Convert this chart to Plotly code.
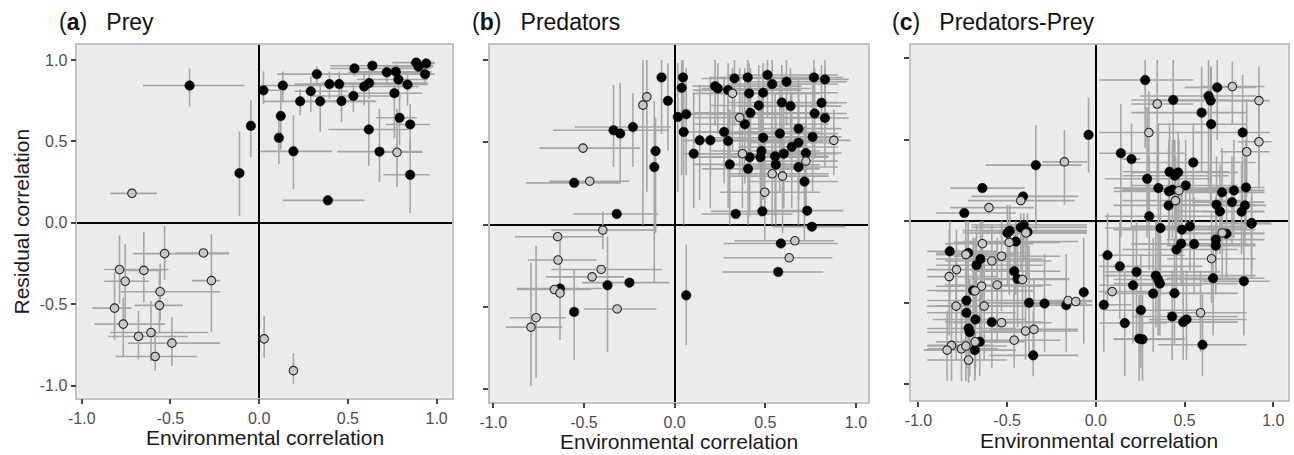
import plotly.graph_objects as go

# Each row: (env_corr, resid_corr, env_lo, env_hi, resid_lo, resid_hi, filled)
prey_points = [
    (-0.392, 0.843, -0.655, -0.083, 0.715, 0.948, 1),
    (-0.717, 0.181, -0.839, -0.577, 0.181, 0.181, 0),
    (-0.111, 0.305, -0.111, -0.111, 0.041, 0.561, 1),
    (-0.047, 0.596, -0.047, -0.047, 0.402, 0.753, 1),
    (0.024, 0.814, 0.0, 0.12, 0.73, 0.93, 1),
    (0.122, 0.656, 0.10, 0.14, 0.45, 0.81, 1),
    (0.111, 0.522, 0.111, 0.111, 0.36, 0.69, 1),
    (0.133, 0.843, 0.03, 0.40, 0.75, 0.93, 1),
    (0.193, 0.439, 0.006, 0.41, 0.206, 0.66, 1),
    (0.231, 0.746, 0.02, 0.66, 0.66, 0.82, 1),
    (0.291, 0.808, 0.20, 0.50, 0.68, 0.90, 1),
    (0.325, 0.913, 0.10, 0.95, 0.85, 0.96, 1),
    (0.344, 0.746, 0.25, 0.60, 0.56, 0.86, 1),
    (0.396, 0.852, 0.20, 0.75, 0.76, 0.93, 1),
    (0.387, 0.138, 0.133, 0.593, 0.138, 0.138, 1),
    (0.451, 0.852, 0.30, 0.80, 0.74, 0.93, 1),
    (0.464, 0.748, 0.35, 0.65, 0.62, 0.85, 1),
    (0.537, 0.948, 0.40, 0.97, 0.90, 0.98, 1),
    (0.531, 0.779, 0.30, 0.80, 0.68, 0.86, 1),
    (0.592, 0.837, 0.40, 0.90, 0.72, 0.92, 1),
    (0.620, 0.858, 0.35, 0.95, 0.76, 0.94, 1),
    (0.638, 0.965, 0.40, 0.98, 0.92, 0.98, 1),
    (0.618, 0.573, 0.39, 0.841, 0.35, 0.75, 1),
    (0.719, 0.924, 0.50, 0.97, 0.86, 0.97, 1),
    (0.770, 0.928, 0.55, 0.97, 0.86, 0.97, 1),
    (0.785, 0.880, 0.55, 0.95, 0.78, 0.95, 1),
    (0.762, 0.796, 0.55, 0.92, 0.52, 0.90, 1),
    (0.791, 0.645, 0.659, 0.888, 0.48, 0.80, 1),
    (0.678, 0.437, 0.44, 0.92, 0.25, 0.70, 1),
    (0.777, 0.433, 0.68, 0.92, 0.22, 0.70, 0),
    (0.836, 0.849, 0.70, 0.95, 0.72, 0.93, 1),
    (0.851, 0.604, 0.715, 0.962, 0.45, 0.73, 1),
    (0.851, 0.295, 0.70, 0.96, 0.06, 0.52, 1),
    (0.885, 0.984, 0.75, 0.99, 0.95, 0.99, 1),
    (0.898, 0.959, 0.70, 0.98, 0.92, 0.98, 1),
    (0.941, 0.979, 0.85, 0.99, 0.95, 0.99, 1),
    (0.935, 0.913, 0.80, 0.99, 0.85, 0.95, 1),
    (-0.787, -0.287, -0.873, -0.511, -0.497, -0.076, 0),
    (-0.755, -0.359, -0.873, -0.62, -0.62, -0.13, 0),
    (-0.815, -0.524, -0.94, -0.72, -0.72, -0.30, 0),
    (-0.766, -0.622, -0.93, -0.53, -0.82, -0.46, 0),
    (-0.650, -0.292, -0.76, -0.55, -0.49, -0.055, 0),
    (-0.680, -0.698, -0.85, -0.40, -0.84, -0.54, 0),
    (-0.610, -0.674, -0.84, -0.29, -0.85, -0.48, 0),
    (-0.586, -0.821, -0.81, -0.35, -0.91, -0.66, 0),
    (-0.558, -0.423, -0.78, -0.22, -0.60, -0.25, 0),
    (-0.562, -0.507, -0.70, -0.43, -0.68, -0.29, 0),
    (-0.533, -0.189, -0.71, -0.17, -0.35, -0.02, 0),
    (-0.492, -0.739, -0.74, -0.22, -0.88, -0.58, 0),
    (-0.314, -0.185, -0.47, -0.17, -0.185, -0.185, 0),
    (-0.269, -0.355, -0.38, -0.22, -0.67, -0.07, 0),
    (0.028, -0.713, 0.028, 0.028, -0.83, -0.57, 0),
    (0.193, -0.908, 0.193, 0.193, -0.99, -0.80, 0),
]

predator_points = [
    (-0.072, 0.894, -0.072, -0.072, 0.55, 1.0, 1),
    (-0.037, 0.752, -0.037, -0.037, 0.45, 0.98, 1),
    (-0.153, 0.776, -0.153, -0.153, 0.20, 1.0, 0),
    (-0.175, 0.726, -0.175, -0.175, 0.0, 1.0, 0),
    (-0.230, 0.593, -0.55, -0.02, 0.35, 0.80, 1),
    (-0.337, 0.573, -0.67, -0.03, 0.35, 0.85, 1),
    (-0.300, 0.553, -0.30, -0.30, 0.25, 0.86, 1),
    (-0.505, 0.465, -0.745, -0.19, 0.465, 0.465, 0),
    (-0.105, 0.447, -0.105, -0.105, -0.05, 0.65, 1),
    (-0.112, 0.350, -0.112, -0.112, -0.35, 0.75, 1),
    (-0.468, 0.264, -0.69, -0.25, 0.264, 0.264, 0),
    (-0.554, 0.254, -0.82, -0.30, 0.254, 0.254, 1),
    (-0.319, 0.065, -0.56, -0.09, 0.065, 0.065, 1),
    (0.046, 0.894, 0.02, 0.07, 0.55, 1.0, 1),
    (0.039, 0.831, 0.01, 0.06, 0.30, 1.0, 1),
    (0.018, 0.654, 0.0, 0.04, 0.20, 0.98, 1),
    (0.064, 0.671, 0.04, 0.60, 0.30, 0.95, 1),
    (0.050, 0.563, 0.03, 0.50, 0.0, 0.85, 1),
    (0.105, 0.431, 0.05, 0.70, 0.10, 0.80, 1),
    (0.138, 0.512, 0.05, 0.60, 0.15, 0.85, 1),
    (0.197, 0.512, 0.10, 0.70, 0.10, 0.90, 1),
    (0.223, 0.841, 0.10, 0.70, 0.60, 1.0, 1),
    (0.238, 0.827, 0.15, 0.75, 0.55, 0.98, 1),
    (0.273, 0.563, 0.10, 0.80, 0.25, 0.90, 1),
    (0.295, 0.508, 0.15, 0.80, 0.10, 0.80, 1),
    (0.295, 0.817, 0.10, 0.70, 0.50, 0.98, 1),
    (0.319, 0.797, 0.10, 0.75, 0.45, 0.95, 0),
    (0.330, 0.888, 0.15, 0.85, 0.60, 1.0, 1),
    (0.304, 0.366, 0.10, 0.75, 0.0, 0.70, 1),
    (0.337, 0.065, 0.15, 0.65, 0.065, 0.065, 1),
    (0.359, 0.650, 0.10, 0.80, 0.30, 0.95, 0),
    (0.387, 0.610, 0.10, 0.85, 0.25, 0.95, 1),
    (0.374, 0.431, 0.05, 0.80, 0.10, 0.80, 0),
    (0.414, 0.410, 0.10, 0.85, 0.05, 0.80, 1),
    (0.403, 0.894, 0.20, 0.85, 0.60, 1.0, 1),
    (0.411, 0.797, 0.20, 0.80, 0.50, 0.98, 1),
    (0.418, 0.679, 0.10, 0.85, 0.30, 0.95, 1),
    (0.405, 0.339, 0.15, 0.80, 0.0, 0.65, 1),
    (0.464, 0.724, 0.20, 0.85, 0.35, 0.97, 1),
    (0.473, 0.410, 0.10, 0.80, 0.05, 0.75, 1),
    (0.479, 0.447, 0.20, 0.80, 0.10, 0.80, 1),
    (0.488, 0.801, 0.25, 0.90, 0.50, 0.98, 1),
    (0.488, 0.528, 0.20, 0.85, 0.15, 0.90, 1),
    (0.497, 0.197, 0.25, 0.80, -0.10, 0.50, 0),
    (0.484, 0.081, 0.20, 0.75, 0.081, 0.081, 1),
    (0.512, 0.909, 0.30, 0.90, 0.65, 1.0, 1),
    (0.538, 0.854, 0.30, 0.90, 0.55, 1.0, 1),
    (0.538, 0.309, 0.30, 0.85, 0.0, 0.65, 0),
    (0.554, 0.415, 0.30, 0.85, 0.05, 0.80, 1),
    (0.558, 0.364, 0.25, 0.80, 0.0, 0.70, 1),
    (0.595, 0.295, 0.30, 0.85, -0.05, 0.60, 0),
    (0.602, 0.431, 0.30, 0.90, 0.10, 0.75, 1),
    (0.617, 0.868, 0.40, 0.95, 0.60, 1.0, 1),
    (0.591, 0.742, 0.30, 0.90, 0.40, 0.97, 1),
    (0.580, 0.553, 0.30, 0.90, 0.20, 0.85, 1),
    (0.639, 0.720, 0.35, 0.92, 0.40, 0.95, 1),
    (0.646, 0.472, 0.35, 0.90, 0.10, 0.80, 1),
    (0.683, 0.583, 0.40, 0.92, 0.25, 0.90, 1),
    (0.683, 0.498, 0.40, 0.90, 0.15, 0.85, 1),
    (0.683, 0.350, 0.40, 0.90, 0.0, 0.70, 1),
    (0.724, 0.435, 0.45, 0.92, 0.10, 0.80, 1),
    (0.724, 0.386, 0.45, 0.90, 0.05, 0.75, 0),
    (0.716, 0.262, 0.40, 0.90, -0.10, 0.60, 1),
    (0.731, 0.085, 0.45, 0.93, 0.085, 0.085, 1),
    (0.761, 0.533, 0.50, 0.92, 0.20, 0.85, 1),
    (0.772, 0.675, 0.50, 0.95, 0.40, 0.95, 1),
    (0.768, 0.894, 0.55, 0.93, 0.65, 1.0, 1),
    (0.810, 0.740, 0.55, 0.95, 0.50, 0.97, 1),
    (0.829, 0.882, 0.60, 0.96, 0.65, 1.0, 1),
    (0.829, 0.648, 0.60, 0.96, 0.35, 0.95, 1),
    (0.878, 0.512, 0.70, 0.97, 0.30, 0.70, 0),
    (0.757, -0.012, 0.54, 0.94, -0.012, -0.012, 1),
    (0.586, -0.114, 0.27, 0.90, -0.114, -0.114, 1),
    (0.663, -0.098, 0.33, 0.88, -0.098, -0.098, 0),
    (0.632, -0.201, 0.27, 0.87, -0.201, -0.201, 0),
    (0.571, -0.287, 0.26, 0.82, -0.287, -0.287, 1),
    (0.064, -0.429, 0.064, 0.064, -0.73, -0.12, 1),
    (-0.396, -0.033, -0.68, -0.11, -0.15, 0.08, 0),
    (-0.645, -0.073, -0.88, -0.39, -0.073, -0.073, 0),
    (-0.643, -0.215, -0.81, -0.43, -0.215, -0.215, 0),
    (-0.405, -0.272, -0.68, -0.07, -0.272, -0.272, 0),
    (-0.455, -0.317, -0.71, -0.28, -0.317, -0.317, 0),
    (-0.249, -0.352, -0.51, -0.03, -0.352, -0.352, 1),
    (-0.370, -0.368, -0.37, -0.37, -0.774, -0.073, 1),
    (-0.632, -0.388, -0.87, -0.40, -0.388, -0.388, 1),
    (-0.663, -0.394, -0.87, -0.46, -0.394, -0.394, 0),
    (-0.632, -0.415, -0.632, -0.632, -0.70, -0.073, 0),
    (-0.554, -0.530, -0.554, -0.554, -0.82, -0.27, 1),
    (-0.317, -0.512, -0.50, -0.10, -0.512, -0.512, 0),
    (-0.764, -0.565, -0.91, -0.60, -0.93, -0.13, 0),
    (-0.792, -0.622, -0.93, -0.62, -0.98, -0.23, 0),
]

predprey_points = [
    (0.278, 0.867, 0.02, 0.55, 0.45, 0.99, 1),
    (0.346, 0.720, 0.20, 0.55, 0.20, 0.99, 0),
    (0.436, 0.745, 0.20, 0.75, 0.30, 0.99, 1),
    (0.299, 0.545, 0.02, 0.60, 0.05, 0.80, 0),
    (0.684, 0.822, 0.50, 0.90, 0.50, 0.99, 1),
    (0.769, 0.827, 0.60, 0.95, 0.60, 0.98, 0),
    (0.635, 0.769, 0.25, 0.90, 0.20, 0.99, 1),
    (0.647, 0.741, 0.30, 0.90, 0.10, 0.95, 1),
    (0.596, 0.667, 0.20, 0.85, 0.30, 0.95, 1),
    (0.650, 0.596, 0.35, 0.85, 0.10, 0.95, 1),
    (0.919, 0.741, 0.75, 0.98, 0.30, 0.95, 0),
    (0.827, 0.545, 0.55, 0.98, 0.10, 0.90, 1),
    (0.919, 0.488, 0.80, 0.99, 0.20, 0.75, 0),
    (0.850, 0.427, 0.70, 0.98, 0.15, 0.75, 0),
    (0.141, 0.418, 0.02, 0.50, -0.10, 0.72, 1),
    (0.201, 0.382, 0.15, 0.25, -0.05, 0.60, 1),
    (0.549, 0.361, 0.20, 0.90, 0.10, 0.60, 1),
    (0.415, 0.304, 0.15, 0.75, -0.10, 0.60, 1),
    (0.464, 0.300, 0.20, 0.80, -0.05, 0.55, 1),
    (0.445, 0.280, 0.15, 0.75, -0.05, 0.50, 1),
    (0.289, 0.261, 0.05, 0.65, -0.10, 0.70, 1),
    (0.352, 0.204, 0.10, 0.80, -0.10, 0.60, 1),
    (0.412, 0.184, 0.10, 0.85, -0.10, 0.50, 1),
    (0.432, 0.194, 0.15, 0.80, -0.10, 0.50, 1),
    (0.468, 0.188, 0.15, 0.80, -0.05, 0.50, 0),
    (0.506, 0.220, 0.20, 0.80, -0.05, 0.50, 1),
    (0.449, 0.127, 0.15, 0.85, -0.10, 0.40, 0),
    (0.410, 0.098, 0.10, 0.90, -0.15, 0.45, 1),
    (0.301, 0.031, 0.05, 0.70, -0.30, 0.40, 1),
    (0.711, 0.178, 0.50, 0.95, -0.10, 0.45, 1),
    (0.778, 0.190, 0.55, 0.95, -0.10, 0.50, 1),
    (0.846, 0.208, 0.65, 0.95, -0.05, 0.50, 1),
    (0.767, 0.118, 0.55, 0.95, -0.15, 0.40, 1),
    (0.680, 0.102, 0.40, 0.90, -0.20, 0.40, 1),
    (0.699, 0.061, 0.45, 0.95, -0.20, 0.35, 1),
    (0.840, 0.098, 0.65, 0.96, -0.15, 0.40, 1),
    (0.821, 0.059, 0.60, 0.95, -0.20, 0.35, 1),
    (0.878, -0.010, 0.70, 0.98, -0.30, 0.20, 1),
    (-0.041, 0.531, -0.041, -0.041, 0.30, 0.76, 1),
    (-0.338, 0.345, -0.62, -0.08, -0.05, 0.59, 1),
    (-0.177, 0.365, -0.30, -0.05, 0.10, 0.56, 0),
    (-0.639, 0.204, -0.82, -0.40, 0.204, 0.204, 1),
    (-0.410, 0.153, -0.70, -0.10, 0.153, 0.153, 1),
    (-0.423, 0.127, -0.72, -0.12, 0.127, 0.127, 0),
    (-0.602, 0.084, -0.82, -0.35, 0.084, 0.084, 0),
    (-0.741, 0.051, -0.90, -0.45, 0.051, 0.051, 1),
    (0.364, -0.041, 0.05, 0.85, -0.45, 0.20, 1),
    (0.485, -0.051, 0.10, 0.90, -0.30, 0.20, 1),
    (0.530, -0.031, 0.20, 0.90, -0.30, 0.25, 1),
    (0.877, -0.014, 0.70, 0.99, -0.35, 0.15, 1),
    (0.712, -0.071, 0.50, 0.95, -0.35, 0.20, 0),
    (0.736, -0.076, 0.50, 0.95, -0.35, 0.20, 1),
    (0.676, -0.112, 0.40, 0.95, -0.40, 0.15, 1),
    (0.676, -0.149, 0.40, 0.90, -0.45, 0.10, 1),
    (0.554, -0.139, 0.20, 0.90, -0.45, 0.15, 1),
    (0.481, -0.137, 0.20, 0.85, -0.40, 0.20, 1),
    (0.454, -0.173, 0.15, 0.80, -0.45, 0.10, 1),
    (0.066, -0.208, 0.02, 0.50, -0.50, 0.05, 1),
    (0.135, -0.276, 0.02, 0.60, -0.60, 0.0, 1),
    (0.229, -0.310, 0.05, 0.70, -0.70, 0.0, 1),
    (0.652, -0.229, 0.40, 0.90, -0.50, 0.05, 0),
    (0.338, -0.333, 0.05, 0.90, -0.65, 0.0, 1),
    (0.351, -0.357, 0.10, 0.85, -0.70, 0.0, 1),
    (0.361, -0.382, 0.10, 0.80, -0.70, -0.05, 1),
    (0.661, -0.349, 0.40, 0.95, -0.70, -0.05, 1),
    (0.834, -0.367, 0.60, 0.98, -0.70, -0.05, 1),
    (0.210, -0.392, 0.02, 0.60, -0.75, -0.05, 1),
    (0.323, -0.443, 0.05, 0.80, -0.80, -0.10, 1),
    (0.443, -0.441, 0.20, 0.80, -0.75, -0.10, 1),
    (0.092, -0.431, 0.02, 0.30, -0.431, -0.431, 0),
    (0.045, -0.512, 0.02, 0.20, -0.80, -0.20, 1),
    (0.254, -0.545, 0.05, 0.60, -0.90, -0.20, 1),
    (0.430, -0.584, 0.20, 0.80, -0.85, -0.30, 1),
    (0.511, -0.602, 0.30, 0.85, -0.85, -0.30, 1),
    (0.492, -0.618, 0.30, 0.80, -0.85, -0.30, 1),
    (0.590, -0.561, 0.40, 0.85, -0.80, -0.30, 0),
    (0.163, -0.624, 0.02, 0.40, -0.95, -0.30, 1),
    (0.244, -0.720, 0.10, 0.50, -0.98, -0.45, 1),
    (0.263, -0.724, 0.10, 0.50, -0.98, -0.45, 1),
    (0.601, -0.757, 0.35, 0.85, -0.95, -0.45, 1),
    (-0.498, -0.071, -0.75, -0.05, -0.40, 0.10, 1),
    (-0.485, -0.057, -0.75, -0.05, -0.30, 0.10, 1),
    (-0.423, -0.037, -0.70, -0.05, -0.30, 0.05, 1),
    (-0.406, -0.022, -0.70, -0.05, -0.25, 0.05, 1),
    (-0.385, -0.065, -0.65, -0.05, -0.35, 0.05, 1),
    (-0.394, -0.071, -0.70, -0.05, -0.35, 0.0, 0),
    (-0.451, -0.124, -0.75, -0.10, -0.45, 0.0, 1),
    (-0.488, -0.129, -0.80, -0.20, -0.45, 0.0, 0),
    (-0.639, -0.137, -0.85, -0.35, -0.50, 0.0, 0),
    (-0.823, -0.184, -0.95, -0.55, -0.50, 0.0, 1),
    (-0.719, -0.194, -0.90, -0.40, -0.55, 0.0, 1),
    (-0.732, -0.204, -0.90, -0.45, -0.55, 0.0, 0),
    (-0.531, -0.214, -0.80, -0.20, -0.55, 0.0, 0),
    (-0.586, -0.243, -0.85, -0.25, -0.55, -0.02, 0),
    (-0.650, -0.231, -0.90, -0.30, -0.60, 0.0, 1),
    (-0.672, -0.269, -0.90, -0.30, -0.60, -0.02, 1),
    (-0.785, -0.296, -0.95, -0.50, -0.65, -0.05, 0),
    (-0.826, -0.339, -0.95, -0.55, -0.70, -0.05, 0),
    (-0.460, -0.306, -0.70, -0.20, -0.65, -0.05, 1),
    (-0.441, -0.353, -0.70, -0.15, -0.65, -0.05, 1),
    (-0.413, -0.357, -0.65, -0.15, -0.65, -0.05, 0),
    (-0.556, -0.390, -0.85, -0.25, -0.75, -0.10, 0),
    (-0.644, -0.398, -0.90, -0.30, -0.75, -0.10, 0),
    (-0.691, -0.424, -0.95, -0.35, -0.80, -0.10, 1),
    (-0.680, -0.427, -0.90, -0.35, -0.80, -0.10, 0),
    (-0.068, -0.435, -0.068, -0.068, -0.75, -0.10, 1),
    (-0.729, -0.486, -0.95, -0.40, -0.85, -0.15, 1),
    (-0.787, -0.520, -0.95, -0.50, -0.85, -0.20, 0),
    (-0.629, -0.520, -0.90, -0.30, -0.85, -0.20, 0),
    (-0.376, -0.500, -0.65, -0.10, -0.80, -0.15, 1),
    (-0.289, -0.504, -0.55, -0.05, -0.80, -0.20, 1),
    (-0.167, -0.514, -0.40, -0.02, -0.80, -0.20, 1),
    (-0.156, -0.486, -0.35, -0.02, -0.486, -0.486, 0),
    (-0.113, -0.492, -0.30, -0.02, -0.492, -0.492, 0),
    (-0.729, -0.561, -0.95, -0.45, -0.90, -0.20, 1),
    (-0.678, -0.602, -0.92, -0.40, -0.90, -0.30, 1),
    (-0.586, -0.618, -0.85, -0.30, -0.90, -0.30, 1),
    (-0.531, -0.622, -0.80, -0.25, -0.622, -0.622, 0),
    (-0.717, -0.657, -0.95, -0.45, -0.95, -0.35, 1),
    (-0.710, -0.680, -0.95, -0.40, -0.95, -0.35, 1),
    (-0.396, -0.673, -0.65, -0.10, -0.85, -0.40, 0),
    (-0.349, -0.663, -0.60, -0.10, -0.85, -0.35, 0),
    (-0.460, -0.729, -0.75, -0.20, -0.90, -0.40, 0),
    (-0.654, -0.739, -0.90, -0.40, -0.95, -0.45, 1),
    (-0.680, -0.739, -0.90, -0.45, -0.95, -0.45, 0),
    (-0.813, -0.761, -0.95, -0.60, -0.98, -0.50, 0),
    (-0.838, -0.790, -0.97, -0.65, -0.98, -0.55, 0),
    (-0.757, -0.782, -0.95, -0.55, -0.98, -0.50, 0),
    (-0.732, -0.765, -0.95, -0.50, -0.98, -0.50, 0),
    (-0.682, -0.790, -0.93, -0.45, -0.98, -0.55, 1),
    (-0.717, -0.851, -0.95, -0.50, -0.99, -0.60, 0),
    (-0.353, -0.822, -0.60, -0.10, -0.95, -0.55, 1),
]

panel_letters = ["a", "b", "c"]
panel_names = ["Prey", "Predators", "Predators-Prey"]
tick_vals = [-1.0, -0.5, 0.0, 0.5, 1.0]
tick_text = ["-1.0", "-0.5", "0.0", "0.5", "1.0"]
x_title = "Environmental correlation"
y_title = "Residual correlation"

W, H = 1294, 455


def px(x):
    return min(1.0, max(0.0, x / W))


def py(y):
    return min(1.0, max(0.0, 1 - y / H))


# panel boxes in screen pixels: left, right, top, bottom
boxes = [(77.3, 451.7, 45, 397.7), (490, 868.3, 45, 401.7), (910.7, 1287.7, 45, 400)]
xranges = [[-1.025, 1.085], [-1.018, 1.068], [-1.043, 1.081]]
yranges = [[-1.074, 1.092], [-1.075, 1.091], [-1.096, 1.082]]
xtitle_y = [437.5, 441.5, 440.0]

FONT = "Liberation Sans, Arial, sans-serif"
ERR = "#a6a6a6"

fig = go.Figure()
datasets = [prey_points, predator_points, predprey_points]

for i, pts in enumerate(datasets):
    xa = "x" if i == 0 else f"x{i+1}"
    ya = "y" if i == 0 else f"y{i+1}"
    xs = [p[0] for p in pts]
    ys = [p[1] for p in pts]
    exp = [p[3] - p[0] for p in pts]
    exm = [p[0] - p[2] for p in pts]
    eyp = [p[5] - p[1] for p in pts]
    eym = [p[1] - p[4] for p in pts]
    fig.add_trace(go.Scatter(
        x=xs, y=ys, mode="markers", xaxis=xa, yaxis=ya,
        marker=dict(size=2, opacity=0),
        error_x=dict(type="data", symmetric=False, array=exp, arrayminus=exm,
                     color=ERR, thickness=1.6, width=0),
        error_y=dict(type="data", symmetric=False, array=eyp, arrayminus=eym,
                     color=ERR, thickness=1.6, width=0),
        showlegend=False, hoverinfo="skip"))
    fx = [p[0] for p in pts if p[6] == 1]
    fy = [p[1] for p in pts if p[6] == 1]
    ox = [p[0] for p in pts if p[6] == 0]
    oy = [p[1] for p in pts if p[6] == 0]
    fig.add_trace(go.Scatter(
        x=fx, y=fy, mode="markers", xaxis=xa, yaxis=ya,
        marker=dict(size=9.5, color="black", line=dict(width=0.5, color="black")),
        showlegend=False))
    fig.add_trace(go.Scatter(
        x=ox, y=oy, mode="markers", xaxis=xa, yaxis=ya,
        marker=dict(size=8.5, color="#c8c8c8", line=dict(width=1.1, color="#2a2a2a")),
        showlegend=False))

layout = dict(
    width=W, height=H,
    autosize=False,
    margin=dict(l=0, r=0, t=0, b=0, pad=0, autoexpand=False),
    paper_bgcolor="white",
    plot_bgcolor="#ebebeb",
    font=dict(family=FONT, color="#1a1a1a"),
    showlegend=False,
)

annotations = []
for i in range(3):
    l, r, t, b = boxes[i]
    xkey = "xaxis" if i == 0 else f"xaxis{i+1}"
    ykey = "yaxis" if i == 0 else f"yaxis{i+1}"
    ya = "y" if i == 0 else f"y{i+1}"
    xa = "x" if i == 0 else f"x{i+1}"
    layout[xkey] = dict(
        domain=[px(l), px(r)], anchor=ya, range=xranges[i], automargin=False,
        tickvals=tick_vals, ticktext=tick_text, ticks="outside", ticklen=5,
        tickwidth=1.5, tickcolor="#444444",
        tickfont=dict(size=16, color="#4d4d4d", family=FONT),
        showgrid=False, zeroline=True, zerolinecolor="black", zerolinewidth=1.6,
        showline=True, mirror=True, linecolor="#c2c2c2", linewidth=1.5,
    )
    layout[ykey] = dict(
        domain=[py(b), py(t)], anchor=xa, range=yranges[i], automargin=False,
        tickvals=tick_vals, ticktext=tick_text, ticks="outside", ticklen=5,
        tickwidth=1.5, tickcolor="#444444", showticklabels=(i == 0),
        tickfont=dict(size=16, color="#4d4d4d", family=FONT),
        showgrid=False, zeroline=True, zerolinecolor="black", zerolinewidth=1.6,
        showline=True, mirror=True, linecolor="#c2c2c2", linewidth=1.5,
    )
    annotations.append(dict(
        text=f"(<b>{panel_letters[i]}</b>)&nbsp;&nbsp;&nbsp;{panel_names[i]}",
        xref="paper", yref="paper", x=px(l - 20.5), y=py(22),
        xanchor="left", yanchor="middle", showarrow=False,
        font=dict(size=23, color="#111111", family=FONT)))
    annotations.append(dict(
        text=x_title, xref="paper", yref="paper", x=px((l + r) / 2), y=py(xtitle_y[i]),
        xanchor="center", yanchor="middle", showarrow=False,
        font=dict(size=21, color="#1a1a1a", family=FONT)))

annotations.append(dict(
    text=y_title, xref="paper", yref="paper", x=px(20.5), y=py(222),
    xanchor="center", yanchor="middle", textangle=-90, showarrow=False,
    font=dict(size=21, color="#1a1a1a", family=FONT)))

layout["annotations"] = annotations
fig.update_layout(**layout)
fig.write_html(
    "out.html",
    config={"displayModeBar": False},
    post_script="document.body.style.margin='0';document.body.style.overflow='hidden';",
)
